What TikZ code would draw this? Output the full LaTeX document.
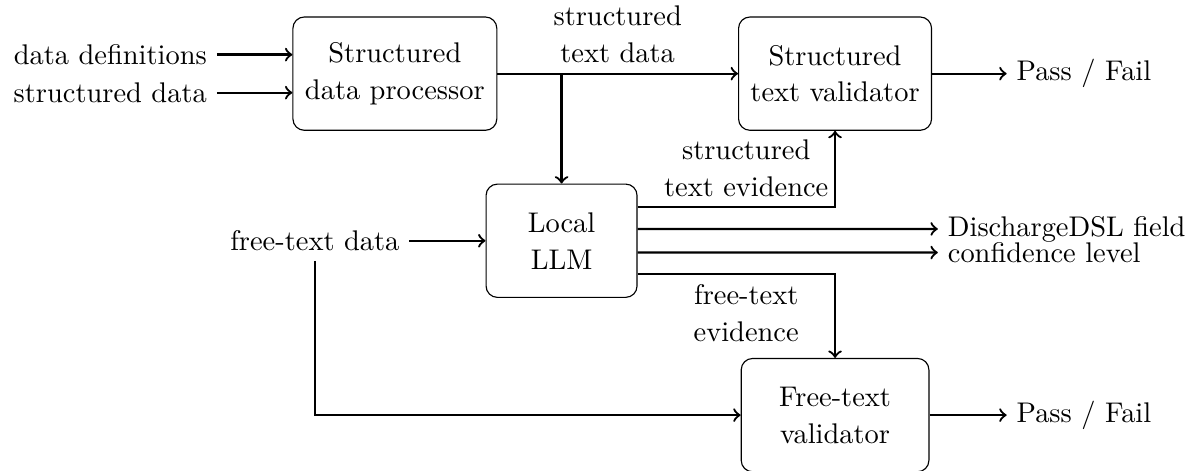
\documentclass[tikz,border=0pt]{standalone}

\tikzstyle{caixa} = [rectangle, rounded corners, minimum height=1.4cm, align=center, draw=black, font=\fontsize{10}{13}\selectfont]
\tikzstyle{etiqueta} = [align=center, font=\fontsize{10}{13}\selectfont]
\tikzstyle{arrow} = [thick,->]

\begin{document}
\begin{tikzpicture}[node distance=2cm]

	\useasboundingbox (0,0) rectangle (14.83,-5.82);

	% Caixes de proces
	\node (processador) [caixa, minimum width=2.52cm] at (4.88,-0.91) {Structured\\data processor};
	\node (validadorEstructurat) [caixa, minimum width=2.385cm, right of=processador, xshift=3.44cm] {Structured\\text validator};
	\node (llm) [caixa, minimum width=1.866cm, below of=processador, xshift=2.06cm, yshift=-0.065cm] {Local\\LLM};
	\node (validadorLliure) [caixa, minimum width=2.32cm, below of=validadorEstructurat, yshift=-2.22cm] {Free-text\\validator};

	% Entrades
	\node (definicions) [left of=processador, anchor=east, xshift=-0.2cm, yshift=0.235cm] {data definitions};
	\node (dadesEstructurades) [left of=processador, anchor=east, xshift=-0.2cm, yshift=-0.235cm] {structured data};
	\node (dadesLliures) [left of=llm, anchor=east, xshift=0.12cm] {free-text data};

	% Sortides
	\node (resultatEstructurat) [right of=validadorEstructurat, anchor=west, xshift=0.12cm] {Pass / Fail};
	\node (resultatLliure) [right of=validadorLliure, anchor=west, xshift=0.12cm] {Pass / Fail};
	\node (campDSL) [right of=llm, anchor=west, xshift=2.65cm, yshift=0.146cm] {DischargeDSL field};
	\node (nivellConfianca) [right of=llm, anchor=west, xshift=2.65cm, yshift=-0.146cm] {confidence level};

	% Fletxes
	\draw [arrow] (definicions) -- (definicions -| processador.west);
	\draw [arrow] (dadesEstructurades) -- (dadesEstructurades -| processador.west);
	\draw [arrow] (processador) -- (validadorEstructurat) node[midway, above, etiqueta] {structured\\text data};
	\draw [arrow] (processador -| llm.north) -- (llm.north);

	\draw [arrow] (dadesLliures) -- (llm);
	\draw [arrow] (dadesLliures.south) |- (validadorLliure.west);

	\draw [arrow] ([yshift=4.15mm]llm.east) -- ([yshift=4.15mm]llm.east -| validadorEstructurat.south) node[pos=0.55, above, etiqueta] {structured\\text evidence} -- (validadorEstructurat.south);
	\draw [arrow] ([yshift=1.46mm]llm.east) -- (campDSL);
	\draw [arrow] ([yshift=-1.46mm]llm.east) -- (nivellConfianca);
	\draw [arrow] ([yshift=-4.15mm]llm.east) -- ([yshift=-4.15mm]llm.east -| validadorLliure.north) node[pos=0.55, below, etiqueta] {free-text\\evidence} -- (validadorLliure.north);

	\draw [arrow] (validadorEstructurat) -- (resultatEstructurat);
	\draw [arrow] (validadorLliure) -- (resultatLliure);

\end{tikzpicture}
\end{document}
